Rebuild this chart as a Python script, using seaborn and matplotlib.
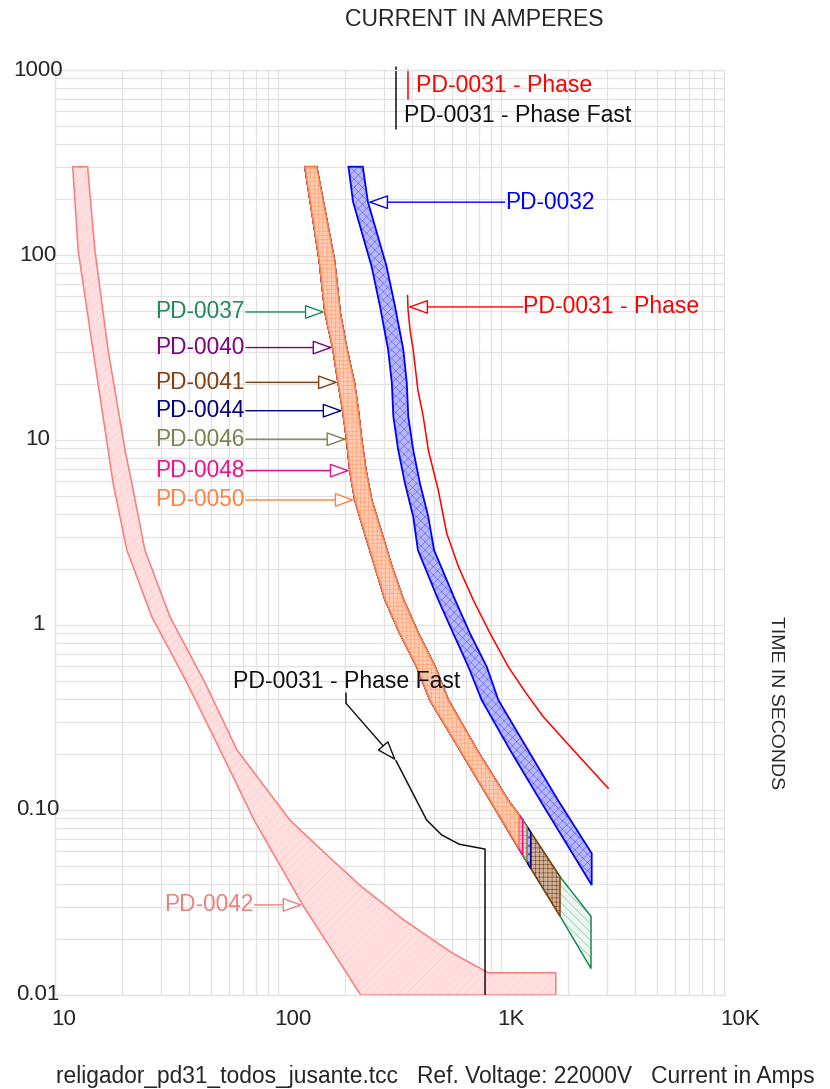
import numpy as np
import pandas as pd
import matplotlib
matplotlib.use('Agg')
import matplotlib.pyplot as plt
import matplotlib.ticker as mticker
import seaborn as sns
from matplotlib.colors import to_rgba

# shared fuse band (PD-0037 .. PD-0050), min melt / total clear
band_mm_amps = [132, 153, 162.5, 176, 186, 195, 203, 210, 221, 245, 272, 302, 352, 419, 480, 655, 893, 1251, 1359, 1839, 2533]
band_mm_secs = [300, 94, 48.8, 31.5, 20.4, 14.5, 10.1, 6.83, 4.74, 3.13, 2.07, 1.37, 0.90, 0.595, 0.393, 0.211, 0.113, 0.0571, 0.0484, 0.0267, 0.0139]
band_tc_amps = [149, 179, 190, 203, 220, 229, 237, 248, 263, 292, 324, 365, 426, 506, 580, 780, 1075, 1251, 1839, 2533]
band_tc_secs = [300, 94, 48.8, 31.5, 20.4, 14.5, 10.1, 6.83, 4.74, 3.13, 2.07, 1.37, 0.90, 0.595, 0.393, 0.211, 0.113, 0.0883, 0.0436, 0.0266]

fuse_names = ['PD-0037', 'PD-0040', 'PD-0041', 'PD-0044', 'PD-0046', 'PD-0048', 'PD-0050']
fuse_cut_amps = [2533, 1204, 1839, 1359, 1308, 1251, 1204]
fuse_cut_top = [0.0266, 0.0937, 0.0436, 0.0758, 0.0815, 0.0883, 0.0937]
fuse_cut_bot = [0.0139, 0.0621, 0.0267, 0.0484, 0.0522, 0.0571, 0.0621]
fuse_label_secs = [49.2, 31.6, 20.5, 14.4, 10.1, 6.83, 4.74]
fuse_colors = ['#1e8a55', '#800080', '#804010', '#000080', '#80804f', '#f0108a', '#ff8040']

# PD-0032 band
blue_mm_amps = [207, 217, 263, 287, 312, 324, 329, 346, 371, 404, 424, 523, 611, 714, 819, 1098, 1496, 2551]
blue_mm_secs = [300, 194, 86.5, 52.5, 30.6, 20.3, 13.4, 8.83, 5.83, 3.85, 2.54, 1.37, 0.90, 0.595, 0.393, 0.211, 0.113, 0.0393]
blue_tc_amps = [240, 253, 307, 335, 365, 378, 384, 404, 433, 472, 501, 622, 726, 863, 973, 1321, 1801, 2551]
blue_tc_secs = [300, 194, 86.5, 52.5, 30.6, 20.3, 13.4, 8.83, 5.83, 3.85, 2.54, 1.37, 0.90, 0.595, 0.393, 0.211, 0.113, 0.0583]

# PD-0042 band
pd42_mm_amps = [12.0, 12.7, 14.8, 17.3, 18.2, 21.0, 27.2, 39.1, 55.0, 78.1, 129, 235]
pd42_mm_secs = [300, 106, 30.6, 8.83, 5.86, 2.54, 1.105, 0.486, 0.211, 0.0883, 0.0307, 0.01]
pd42_tc_amps = [14.0, 15.1, 17.3, 20.6, 22.1, 25.3, 32.8, 47.1, 65.5, 113, 162, 237, 367, 603, 875, 1760, 1760]
pd42_tc_secs = [300, 106, 30.6, 8.83, 5.86, 2.54, 1.105, 0.486, 0.211, 0.0883, 0.0586, 0.0385, 0.0254, 0.0169, 0.0132, 0.0132, 0.01]

# PD-0031 recloser curves
phase_amps = [381, 383, 391, 404, 424, 448, 472, 523, 571, 644, 751, 893, 1078, 1294, 1548, 2110, 3029]
phase_secs = [60.4, 50.4, 39.3, 30.6, 18.6, 13.4, 8.83, 5.37, 3.13, 2.07, 1.365, 0.902, 0.595, 0.429, 0.319, 0.211, 0.131]
fast_amps = [338, 464, 542, 650, 848, 848]
fast_secs = [0.185, 0.0883, 0.0733, 0.0653, 0.0615, 0.01]

xtick_vals = [10, 100, 1000, 10000]
xtick_text = ['10', '100', '1K', '10K']
ytick_vals = [1000, 100, 10, 1, 0.1, 0.01]
ytick_text = ['1000', '100', '10', '1', '0.10', '0.01']

FS = 16.6
FS_TAG = 16.3


def tint(c, k):
    r, g, b, _ = to_rgba(c)
    return (1 - k * (1 - r), 1 - k * (1 - g), 1 - k * (1 - b))


def amps_at(amps, secs, t):
    ls = np.log10(secs)[::-1]
    la = np.log10(amps)[::-1]
    return 10 ** np.interp(np.log10(t), ls, la)


def band_poly(tc_a, tc_s, mm_a, mm_s, cut, top, bot):
    xs = [a for a in tc_a if a < cut] + [cut, cut]
    ys = [s for a, s in zip(tc_a, tc_s) if a < cut] + [top, bot]
    for a, s in zip(reversed(mm_a), reversed(mm_s)):
        if a < cut:
            xs.append(a)
            ys.append(s)
    return xs, ys


def draw_band(ax, xs, ys, color, hatch, face_k, hatch_k, lw=1.1, z=3):
    ax.fill(xs, ys, fc=tint(color, face_k), ec=tint(color, hatch_k), lw=0, hatch=hatch, zorder=z)
    ax.fill(xs, ys, fill=False, ec=color, lw=lw, zorder=z)


def arrow(ax, start, tip, color):
    ax.annotate('', xy=tip, xytext=start,
                arrowprops=dict(arrowstyle='-|>,head_length=1.25,head_width=0.45',
                                fc='white', ec=color, lw=1.0,
                                shrinkA=0, shrinkB=0, mutation_scale=10))


sns.set_theme(style='white')
plt.rcParams['font.family'] = ['Liberation Sans', 'DejaVu Sans']
plt.rcParams['hatch.linewidth'] = 0.4

fig = plt.figure(figsize=(8.3, 10.89), dpi=100)
ax = fig.add_axes([0.06627, 0.08632, 0.80602, 0.84940])
ax.set_xscale('log')
ax.set_yscale('log')
ax.set_xlim(10, 10000)
ax.set_ylim(0.01, 1000)
for axis in (ax.xaxis, ax.yaxis):
    axis.set_major_locator(mticker.LogLocator(base=10, numticks=20))
    axis.set_minor_locator(mticker.LogLocator(base=10, subs=np.arange(2, 10), numticks=100))
ax.tick_params(which='both', length=0, labelbottom=False, labelleft=False)
ax.grid(which='both', color='#e2e2e2', lw=0.9)
ax.set_axisbelow(True)
for sp in ax.spines.values():
    sp.set_color('#e2e2e2')
    sp.set_linewidth(0.9)

# PD-0042
xs = pd42_tc_amps + pd42_mm_amps[::-1]
ys = pd42_tc_secs + pd42_mm_secs[::-1]
draw_band(ax, xs, ys, '#ff7a7a', '////', 0.24, 0.40, lw=1.1, z=2)

# fuse bands, bottom layer first
hatches = ['\\\\\\\\', '++++', '++++', 'xxxx', '++++', '++++', '++++']
face_ks = [0.08, 0.30, 0.40, 0.25, 0.30, 0.30, 0.40]
hatch_ks = [0.55, 0.8, 1.0, 0.8, 0.8, 0.8, 0.75]
for cut, top, bot, col, h, fk, hk in zip(fuse_cut_amps, fuse_cut_top, fuse_cut_bot,
                                         fuse_colors, hatches, face_ks, hatch_ks):
    xs, ys = band_poly(band_tc_amps, band_tc_secs, band_mm_amps, band_mm_secs, cut, top, bot)
    draw_band(ax, xs, ys, col, h, fk, hk, lw=1.1, z=3)

# PD-0032
xs = blue_tc_amps + blue_mm_amps[::-1]
ys = blue_tc_secs + blue_mm_secs[::-1]
draw_band(ax, xs, ys, '#0000ff', 'xxxx', 0.28, 0.6, lw=1.3, z=3)

# PD-0031 curves
phase_df = pd.DataFrame({'amps': phase_amps, 'secs': phase_secs})
fast_df = pd.DataFrame({'amps': fast_amps, 'secs': fast_secs})
sns.lineplot(data=phase_df, x='amps', y='secs', color='#ff0000', lw=1.1,
             sort=False, estimator=None, ax=ax, zorder=4)
sns.lineplot(data=fast_df, x='amps', y='secs', color='#111111', lw=1.1,
             sort=False, estimator=None, ax=ax, zorder=4)
ax.set_xlabel('')
ax.set_ylabel('')

# fuse labels on the left
for name, t, col in zip(fuse_names, fuse_label_secs, fuse_colors):
    tip = (amps_at(band_mm_amps, band_mm_secs, t), t)
    arrow(ax, (71.8, t), tip, col)
    ax.text(71.0, t, name, color=col, fontsize=FS_TAG, ha='right', va='center', zorder=6)

# PD-0042 label
t42 = 0.0307
arrow(ax, (78.5, t42), (amps_at(pd42_mm_amps, pd42_mm_secs, t42), t42), '#f08080')
ax.text(77.5, t42, 'PD-0042', color='#f08080', fontsize=FS_TAG, ha='right', va='center')

# PD-0032 label
t32 = 193
arrow(ax, (1040, t32), (amps_at(blue_tc_amps, blue_tc_secs, t32), t32), '#0000ff')
ax.text(1042, t32, 'PD-0032', color='#0000ff', fontsize=FS_TAG, ha='left', va='center')

# PD-0031 - Phase label
tph = 52.4
arrow(ax, (1250, tph), (amps_at(phase_amps, phase_secs, tph), tph), '#ff0000')
ax.text(1255, tph, 'PD-0031 - Phase', color='#ff0000', fontsize=FS, ha='left', va='center')

# PD-0031 - Phase Fast label with leader
ax.text(62.8, 0.498, 'PD-0031 - Phase Fast', color='#111111', fontsize=FS, ha='left', va='center')
ax.plot([201.8, 201.8], [0.4305, 0.3774], color='#111111', lw=1.1)
arrow(ax, (201.8, 0.3774), (fast_amps[0], fast_secs[0]), '#111111')

# pickup markers at the top
ax.plot([phase_amps[0], phase_amps[0]], [1000, 694], color='#ff0000', lw=1.1, clip_on=False)
ax.text(414, 822, 'PD-0031 - Phase', color='#ff0000', fontsize=FS, ha='left', va='center')
ax.plot([fast_amps[0], fast_amps[0]], [1040, 477], color='#111111', lw=1.1, clip_on=False)
ax.text(367, 566, 'PD-0031 - Phase Fast', color='#111111', fontsize=FS, ha='left', va='center')

# tick labels
for v, s in zip(xtick_vals, xtick_text):
    ax.annotate(s, xy=(v, 0), xycoords=('data', 'axes fraction'), xytext=(-2.5, -18),
                textcoords='offset points', ha='left', va='center', fontsize=16)
for v, s in zip(ytick_vals, ytick_text):
    ax.annotate(s, xy=(0, v), xycoords=('axes fraction', 'data'), xytext=(-12.2, 0),
                textcoords='offset points', ha='center', va='center', fontsize=16)

fig.text(474 / 830, 1 - 19 / 1089, 'CURRENT IN AMPERES', ha='center', va='center', fontsize=FS)
fig.text(775 / 830, 1 - 703 / 1089, 'TIME IN SECONDS', rotation=270, ha='center', va='center', fontsize=14)
fig.text(56 / 830, 1 - 1076 / 1089,
         'religador_pd31_todos_jusante.tcc   Ref. Voltage: 22000V   Current in Amps',
         ha='left', va='center', fontsize=16.4)

fig.savefig('out.png', dpi=100)
